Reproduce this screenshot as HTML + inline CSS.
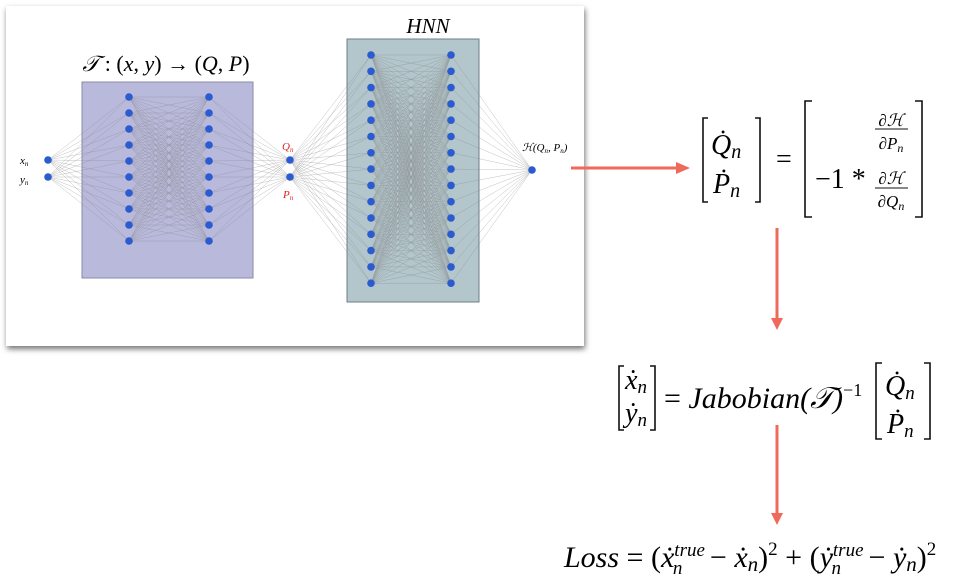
<!DOCTYPE html>
<html><head><meta charset="utf-8"><style>
html,body{margin:0;padding:0;background:#fff;width:964px;height:584px;overflow:hidden}
svg{display:block}
text{font-family:"Liberation Serif",serif}
</style></head><body>
<svg id="s" width="964" height="584" viewBox="0 0 964 584" xmlns="http://www.w3.org/2000/svg">
<defs>
<filter id="sh" x="-5%" y="-5%" width="110%" height="115%"><feDropShadow dx="1" dy="3" stdDeviation="3" flood-color="#000" flood-opacity="0.55"/></filter>
</defs>
<rect x="6" y="6" width="578" height="340" fill="#fff" filter="url(#sh)"/>
<rect x="82" y="82" width="171" height="196" fill="#b9b9dc" stroke="#8a8aa8" stroke-width="1"/>
<rect x="347" y="39" width="132" height="263" fill="#b2c6cc" stroke="#6e7f85" stroke-width="1"/>
<g id="lines" stroke="#888" stroke-width="0.35" opacity="0.75"></g>
<g id="nodes" fill="#2a5bd0"></g>
<text x="428" y="33" font-size="21" font-style="italic" text-anchor="middle">HNN</text>
<text x="166" y="71" font-size="22" text-anchor="middle"><tspan font-style="italic">𝒯</tspan> : (<tspan font-style="italic">x</tspan>, <tspan font-style="italic">y</tspan>) → (<tspan font-style="italic">Q</tspan>, <tspan font-style="italic">P</tspan>)</text>
<text x="20" y="164" font-size="11" font-style="italic">x<tspan font-size="7" dy="2">n</tspan></text>
<text x="20" y="183" font-size="11" font-style="italic">y<tspan font-size="7" dy="2">n</tspan></text>
<text x="282" y="150" font-size="11" font-style="italic" fill="#e02020">Q<tspan font-size="7" dy="2">n</tspan></text>
<text x="283" y="198" font-size="11" font-style="italic" fill="#e02020">P<tspan font-size="7" dy="2">n</tspan></text>
<text x="522" y="151" font-size="11" font-style="italic">ℋ(Q<tspan font-size="7" dy="2">n</tspan><tspan dy="-2">, P</tspan><tspan font-size="7" dy="2">n</tspan><tspan dy="-2">)</tspan></text>
<g stroke="#ef6a5a" stroke-width="3" fill="#ef6a5a">
<line x1="571" y1="168" x2="680" y2="168"/><polygon points="676,162 690,168 676,174" stroke="none"/>
<line x1="777" y1="228" x2="777" y2="320"/><polygon points="771,318 777,330 783,318" stroke="none"/>
<line x1="777" y1="425" x2="777" y2="515"/><polygon points="771,513 777,525 783,513" stroke="none"/>
</g>
<g stroke="#111" stroke-width="1.6" fill="none">
<path d="M708,118 h-5 v84 h5"/><path d="M755,118 h5 v84 h-5"/>
<path d="M812,101 h-7 v116 h7"/><path d="M915,101 h7 v116 h-7"/>
<path d="M624,366 h-5 v64 h5"/><path d="M650,366 h5 v64 h-5"/>
<path d="M882,363 h-6 v76 h6"/><path d="M924,363 h6 v76 h-6"/>
<line x1="875" y1="129" x2="908" y2="129" stroke-width="1"/>
<line x1="875" y1="188" x2="908" y2="188" stroke-width="1"/>
</g>
<g font-size="28" font-style="italic">
<text x="711" y="154">Q̇<tspan font-size="20" dy="4">n</tspan></text>
<text x="713" y="193">Ṗ<tspan font-size="20" dy="4">n</tspan></text>
<text x="776" y="168" font-style="normal">=</text>
<text x="815" y="188" font-style="normal">−1 *</text>
<text x="891" y="126" font-size="17" text-anchor="middle">∂ℋ</text>
<text x="891" y="149" font-size="17" text-anchor="middle">∂P<tspan font-size="12" dy="3">n</tspan></text>
<text x="891" y="184" font-size="17" text-anchor="middle">∂ℋ</text>
<text x="891" y="207" font-size="17" text-anchor="middle">∂Q<tspan font-size="12" dy="3">n</tspan></text>
<text x="625" y="389">ẋ<tspan font-size="19" dy="4">n</tspan></text>
<text x="625" y="422">ẏ<tspan font-size="19" dy="4">n</tspan></text>
<text x="664" y="408" font-size="30"><tspan font-style="normal">= </tspan>Jabobian(𝒯)<tspan font-size="18" dy="-12" font-style="normal">−1</tspan></text>
<text x="885" y="395">Q̇<tspan font-size="19" dy="4">n</tspan></text>
<text x="887" y="433">Ṗ<tspan font-size="19" dy="4">n</tspan></text>
<text x="564" y="567" font-size="30">Loss<tspan font-style="normal"> = (</tspan>ẋ<tspan font-size="19" dy="-11">true</tspan><tspan font-size="19" dx="-32" dy="18">n</tspan><tspan dy="-7" dx="20" font-style="normal"> − </tspan>ẋ<tspan font-size="21" dy="4">n</tspan><tspan dy="-4" font-style="normal">)</tspan><tspan font-size="19" dy="-12" font-style="normal">2</tspan><tspan dy="12" font-style="normal"> + (</tspan>ẏ<tspan font-size="19" dy="-11">true</tspan><tspan font-size="19" dx="-32" dy="18">n</tspan><tspan dy="-7" dx="20" font-style="normal"> − </tspan>ẏ<tspan font-size="21" dy="4">n</tspan><tspan dy="-4" font-style="normal">)</tspan><tspan font-size="19" dy="-12" font-style="normal">2</tspan></text>
</g>
</svg>
<script>
var NS="http://www.w3.org/2000/svg";
function col(x,n,y0,dy){var a=[];for(var i=0;i<n;i++)a.push([x,y0+i*dy]);return a;}
var L=[[[48,160],[48,177]],col(129,10,97,16),col(209,10,97,16),[[290,160],[290,177]],col(371,15,55,16.3),col(451,15,55,16.3),[[532,170]]];
var lg=document.getElementById('lines'),ng=document.getElementById('nodes');
for(var k=0;k<L.length-1;k++)for(var i=0;i<L[k].length;i++)for(var j=0;j<L[k+1].length;j++){var l=document.createElementNS(NS,'line');l.setAttribute('x1',L[k][i][0]);l.setAttribute('y1',L[k][i][1]);l.setAttribute('x2',L[k+1][j][0]);l.setAttribute('y2',L[k+1][j][1]);lg.appendChild(l);}
L.forEach(function(c){c.forEach(function(p){var e=document.createElementNS(NS,'circle');e.setAttribute('cx',p[0]);e.setAttribute('cy',p[1]);e.setAttribute('r',3.8);ng.appendChild(e);});});
</script>
</body></html>
